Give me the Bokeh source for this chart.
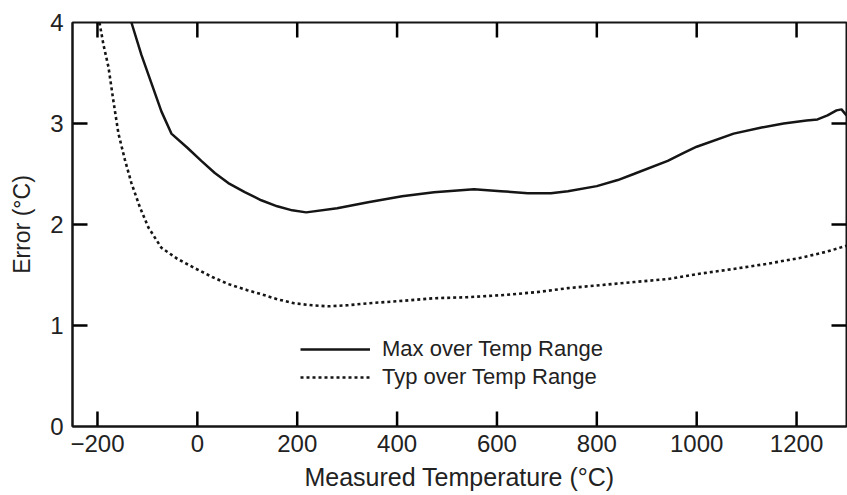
from bokeh.plotting import figure
from bokeh.models import Range1d, FixedTicker, Legend, LegendItem
from bokeh.embed import file_html
from bokeh.resources import INLINE

# ---- data ----
max_temp = [-132, -112, -92, -72, -52, -20, 8, 35, 62, 95, 128, 160, 190, 218, 280, 342, 410, 474,
            554, 608, 662, 708, 742, 800, 842, 874, 942, 974, 1000, 1074, 1130, 1174,
            1220, 1242, 1262, 1280, 1290, 1300]
max_err = [4.00, 3.68, 3.40, 3.12, 2.90, 2.76, 2.63, 2.51, 2.41, 2.32, 2.24, 2.18, 2.14, 2.12, 2.16, 2.22, 2.28, 2.32,
           2.35, 2.33, 2.31, 2.31, 2.33, 2.38, 2.44, 2.50, 2.63, 2.71, 2.77, 2.90, 2.96, 3.00,
           3.03, 3.04, 3.08, 3.13, 3.14, 3.08]

typ_temp = [-196, -188, -178, -168, -158, -145, -132, -115, -98, -72, -40, -6, 30, 62, 100,
            128, 160, 194, 230, 262, 300, 342, 400, 474, 540, 608, 680, 742, 808, 874,
            942, 1002, 1074, 1140, 1208, 1260, 1300]
typ_err = [4.00, 3.78, 3.56, 3.22, 2.90, 2.64, 2.41, 2.17, 1.97, 1.77, 1.66, 1.57, 1.48, 1.41, 1.35,
           1.31, 1.26, 1.22, 1.20, 1.19, 1.20, 1.22, 1.24, 1.27, 1.28, 1.30, 1.33, 1.37, 1.40, 1.43,
           1.46, 1.51, 1.56, 1.61, 1.67, 1.73, 1.79]

x_ticks = [-200, 0, 200, 400, 600, 800, 1000, 1200]
x_tick_labels = ["\u2212200", "0", "200", "400", "600", "800", "1000", "1200"]
y_ticks = [0, 1, 2, 3, 4]
y_tick_labels = ["0", "1", "2", "3", "4"]
x_min, x_max = -250, 1300
y_min, y_max = 0, 4

series_names = ["Max over Temp Range", "Typ over Temp Range"]

FONT = "Liberation Sans"
TXT = "#222222"
INK = "#151515"

W, H = 847, 495
BL, BR, BT, BB = 72, 1, 22, 69
TICK_PX = 15

p = figure(width=W, height=H, output_backend="svg", toolbar_location=None,
           x_range=Range1d(x_min, x_max), y_range=Range1d(y_min, y_max),
           min_border_left=BL, min_border_right=BR, min_border_top=BT, min_border_bottom=BB,
           x_axis_label="Measured Temperature (\u00b0C)", y_axis_label="Error (\u00b0C)")
p.grid.visible = False
p.outline_line_color = INK
p.outline_line_width = 2
p.background_fill_color = "white"
p.border_fill_color = "white"

r1 = p.line(max_temp, max_err, line_color=INK, line_width=2.5)
r2 = p.line(typ_temp, typ_err, line_color=INK, line_width=2.6, line_dash="3 3")

# inward tick marks on all four sides, drawn at the tick values
frame_w = W - BL - BR
frame_h = H - BT - BB
dy = (y_max - y_min) * TICK_PX / frame_h
dx = (x_max - x_min) * TICK_PX / frame_w
inner_x = [t for t in x_ticks if x_min < t < x_max]
inner_y = [t for t in y_ticks if y_min < t < y_max]
seg_kw = dict(line_color="#000000", line_width=2.5, line_cap="butt")
p.segment(x0=inner_x, y0=[y_min] * len(inner_x), x1=inner_x, y1=[y_min + dy] * len(inner_x), **seg_kw)
p.segment(x0=inner_x, y0=[y_max] * len(inner_x), x1=inner_x, y1=[y_max - dy] * len(inner_x), **seg_kw)
p.segment(x0=[x_min] * len(inner_y), y0=inner_y, x1=[x_min + dx] * len(inner_y), y1=inner_y, **seg_kw)
p.segment(x0=[x_max] * len(inner_y), y0=inner_y, x1=[x_max - dx] * len(inner_y), y1=inner_y, **seg_kw)

def style_axis(ax):
    ax.major_tick_in = 0
    ax.major_tick_out = 0
    ax.minor_tick_in = 0
    ax.minor_tick_out = 0
    ax.axis_line_color = INK
    ax.axis_line_width = 2
    ax.major_label_text_font = FONT
    ax.major_label_text_font_size = "24px"
    ax.major_label_text_color = TXT
    ax.axis_label_text_font = FONT
    ax.axis_label_text_font_style = "normal"
    ax.axis_label_text_color = TXT

xa = p.xaxis[0]
xa.ticker = FixedTicker(ticks=x_ticks)
xa.major_label_overrides = dict(zip(x_ticks, x_tick_labels))
style_axis(xa)
xa.major_label_standoff = 8
xa.axis_label_standoff = 8
xa.axis_label_text_font_size = "25px"

ya = p.yaxis[0]
ya.ticker = FixedTicker(ticks=y_ticks)
ya.major_label_overrides = dict(zip(y_ticks, y_tick_labels))
style_axis(ya)
ya.major_label_standoff = 9
ya.axis_label_standoff = 12
ya.axis_label_text_font_size = "23px"

legend = Legend(items=[LegendItem(label=series_names[0], renderers=[r1]),
                       LegendItem(label=series_names[1], renderers=[r2])],
                location=(228, 36), border_line_color=None, background_fill_alpha=0,
                glyph_width=70, glyph_height=20, label_height=20, spacing=2,
                padding=0, margin=0, label_standoff=12,
                label_text_font=FONT, label_text_font_size="22px", label_text_color=TXT)
p.add_layout(legend)

open("out.html", "w").write(file_html(p, INLINE))
